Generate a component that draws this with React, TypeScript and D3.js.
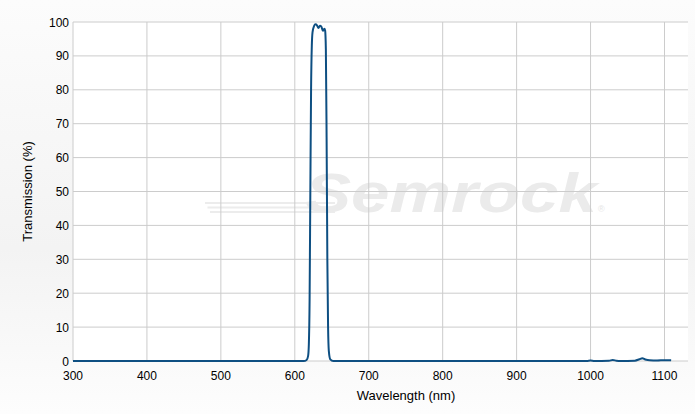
import React, { useEffect } from "react";
import * as d3 from "d3";

// transmission spectrum (nm, %)
const wavelengths = [
  300, 400, 500, 600, 612, 616, 618, 619, 620, 621, 622, 623, 624, 626, 628,
  630, 632, 634, 636, 638, 640, 641, 642, 643, 644, 645, 646, 648, 652, 700,
  800, 900, 995, 1000, 1005, 1025, 1030, 1035, 1040, 1060, 1066, 1070, 1074,
  1080, 1090, 1100, 1109,
];
const transmission = [
  0, 0, 0, 0, 0, 0.3, 1.5, 5, 18, 50, 80, 93, 97, 98.8, 99.3, 99, 98.2, 98.9,
  98.6, 97.4, 98, 97.5, 92, 66, 30, 10, 3, 0.5, 0, 0, 0, 0, 0, 0.15, 0, 0.05, 0.3,
  0.1, 0, 0.1, 0.5, 0.8, 0.45, 0.2, 0.15, 0.25, 0.2,
];

const xTicks = [300, 400, 500, 600, 700, 800, 900, 1000, 1100];
const yTicks = [0, 10, 20, 30, 40, 50, 60, 70, 80, 90, 100];

const W = 695;
const H = 414;
const left = 73;
const right = 688;
const top = 22;
const bottom = 361;

export default function App() {
  useEffect(() => {
    document.body.style.margin = "0";
  }, []);

  const x = d3.scaleLinear().domain([300, 1131.8]).range([left, right]);
  const y = d3.scaleLinear().domain([0, 100]).range([bottom, top]);

  const points = wavelengths.map((w, i) => [w, transmission[i]] as [number, number]);
  const line = d3
    .line<[number, number]>()
    .x((d) => x(d[0]))
    .y((d) => y(d[1]))
    .curve(d3.curveMonotoneX);

  const font = "'Liberation Sans', Arial, sans-serif";

  return (
    <svg width={W} height={H} style={{ display: "block" }} fontFamily={font}>
      <defs>
        <linearGradient id="bg" x1="0" y1="0" x2="0" y2="1">
          <stop offset="0" stopColor="#fcfcfc" />
          <stop offset="0.6" stopColor="#f3f3f3" />
          <stop offset="1" stopColor="#fdfdfd" />
        </linearGradient>
        <linearGradient id="rainbow" x1="0" y1="0" x2="1" y2="0">
          <stop offset="0" stopColor="#f0f0f0" stopOpacity="0" />
          <stop offset="0.2" stopColor="#e8dff5" />
          <stop offset="0.4" stopColor="#dff3f7" />
          <stop offset="0.6" stopColor="#e8f6df" />
          <stop offset="0.75" stopColor="#f8f4da" />
          <stop offset="1" stopColor="#f8dede" />
        </linearGradient>
      </defs>
      <rect width={W} height={H} fill="url(#bg)" />
      <rect x={left} y={top} width={right - left} height={bottom - top} fill="#fff" />

      {/* watermark */}
      <g>
        {[0, 5, 10].map((o) => (
          <line key={o} x1={205 + o * 0.5} x2={335} y1={203 + o * 0.9} y2={203 + o * 0.9} stroke="#ececec" strokeWidth={2} />
        ))}
        {[0, 4].map((o) => (
          <line key={"r" + o} x1={362} x2={568} y1={172 + o} y2={172 + o} stroke="url(#rainbow)" strokeWidth={2} />
        ))}
        <text
          x={305}
          y={212}
          fontSize={55}
          fontWeight="bold"
          fontStyle="italic"
          fill="#ebebeb"
          textLength={292}
          lengthAdjust="spacingAndGlyphs"
        >
          Semrock
        </text>
        <text x={598} y={212} fontSize={9} fill="#e6e6e6">®</text>
      </g>

      {/* grid */}
      {yTicks.map((t) => (
        <line key={"gy" + t} x1={left} x2={right} y1={y(t)} y2={y(t)} stroke="#cccccc" />
      ))}
      {xTicks.map((t) => (
        <line key={"gx" + t} x1={x(t)} x2={x(t)} y1={top} y2={bottom} stroke="#cccccc" />
      ))}

      <path d={line(points) || ""} fill="none" stroke="#0e4f82" strokeWidth={2} strokeLinejoin="round" />

      {/* tick labels */}
      {yTicks.map((t) => (
        <text key={"ly" + t} x={69} y={y(t) + 4.5} fontSize={12} textAnchor="end" fill="#000">
          {t}
        </text>
      ))}
      {xTicks.map((t) => (
        <text key={"lx" + t} x={x(t)} y={380} fontSize={12} textAnchor="middle" fill="#000">
          {t}
        </text>
      ))}

      <text x={406} y={400} fontSize={13} textAnchor="middle" fill="#000">
        Wavelength (nm)
      </text>
      <text transform={`translate(32, ${(top + bottom) / 2}) rotate(-90)`} fontSize={13} textAnchor="middle" fill="#000">
        Transmission (%)
      </text>
    </svg>
  );
}
